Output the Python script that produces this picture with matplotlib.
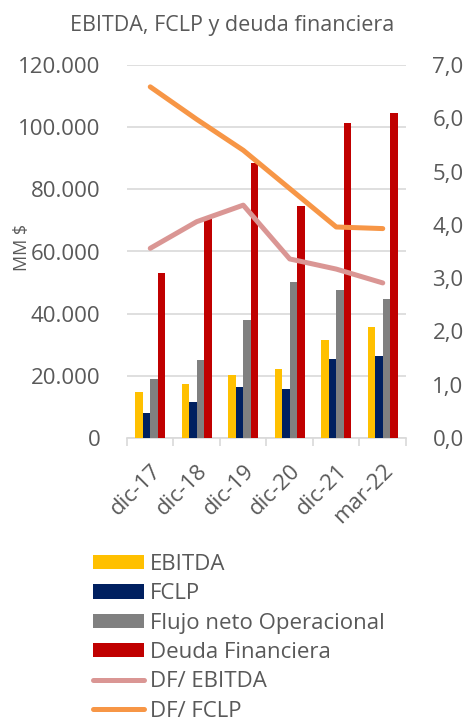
import numpy as np
import matplotlib.pyplot as plt
from matplotlib.ticker import FuncFormatter

periodos = ['dic-17', 'dic-18', 'dic-19', 'dic-20', 'dic-21', 'mar-22']
ebitda = [14800, 17400, 20300, 22100, 31600, 35800]
fclp = [7900, 11700, 16300, 15700, 25500, 26400]
flujo_neto = [18900, 25100, 37900, 50100, 47600, 44700]
deuda = [53200, 70500, 88600, 74600, 101400, 104600]
df_ebitda = [3.56, 4.06, 4.37, 3.36, 3.17, 2.91]
df_fclp = [6.59, 5.98, 5.40, 4.68, 3.96, 3.93]

plt.rcParams['font.family'] = ['Open Sans', 'DejaVu Sans']
gris = '#595959'

fig = plt.figure(figsize=(4.64, 7.17), dpi=100)
ax = fig.add_axes([127/464, 1-438/717, (406-127)/464, (438-65)/717])
ax2 = ax.twinx()

x = np.arange(len(periodos))
w = 0.155
paso = 0.162
ax.bar(x - 1.5*paso, ebitda, w, color='#FFC000', label='EBITDA', zorder=3)
ax.bar(x - 0.5*paso, fclp, w, color='#002060', label='FCLP', zorder=3)
ax.bar(x + 0.5*paso, flujo_neto, w, color='#808080', label='Flujo neto Operacional', zorder=3)
ax.bar(x + 1.5*paso, deuda, w, color='#C00000', label='Deuda Financiera', zorder=3)

ax2.plot(x, df_ebitda, color='#DA9694', lw=3.6, solid_capstyle='round', label='DF/ EBITDA')
ax2.plot(x, df_fclp, color='#F79646', lw=3.6, solid_capstyle='round', label='DF/ FCLP')

ax.set_xlim(-0.5, len(periodos) - 0.5)
ax.set_ylim(0, 120000)
ax.set_yticks(np.arange(0, 120001, 20000))
ax.yaxis.set_major_formatter(FuncFormatter(lambda v, p: f'{int(v):,}'.replace(',', '.')))
ax2.set_ylim(0, 7)
ax2.set_yticks(np.arange(0, 7.01, 1))
ax2.yaxis.set_major_formatter(FuncFormatter(lambda v, p: f'{v:.1f}'.replace('.', ',')))

ax.grid(axis='y', color='#D9D9D9', lw=1.2, zorder=0)
for a in (ax, ax2):
    for s in a.spines.values():
        s.set_visible(False)
    a.tick_params(axis='y', length=0, labelsize=16, labelcolor=gris, pad=19)
ax.spines['bottom'].set_visible(True)
ax.spines['bottom'].set_color('#D9D9D9')
ax.spines['bottom'].set_linewidth(1.2)

ax.set_xticks(x)
ax.set_xticklabels(periodos, rotation=45, ha='right', rotation_mode='anchor', fontsize=16, color=gris)
ax.set_xticks(np.arange(-0.5, len(periodos), 1), minor=True)
ax.tick_params(axis='x', which='major', length=0, pad=16)
ax.tick_params(axis='x', which='minor', length=6, color='#D9D9D9', width=1.2)

ax.set_ylabel('MM $', fontsize=13, color=gris)
ax.yaxis.set_label_coords(-0.345, 0.51)
fig.text(0.5, 1-26/717, 'EBITDA, FCLP y deuda financiera', ha='center', va='center', fontsize=15.5, color=gris)

h1, l1 = ax.get_legend_handles_labels()
h2, l2 = ax2.get_legend_handles_labels()
fig.legend(h1 + h2, l1 + l2, loc='upper left', bbox_to_anchor=(82/464, 1-543/717),
           frameon=False, fontsize=16, labelcolor=gris, handlelength=2.3, handleheight=0.62,
           labelspacing=0.375, handletextpad=0.27, borderpad=0)

fig.savefig('out.png', dpi=100)
